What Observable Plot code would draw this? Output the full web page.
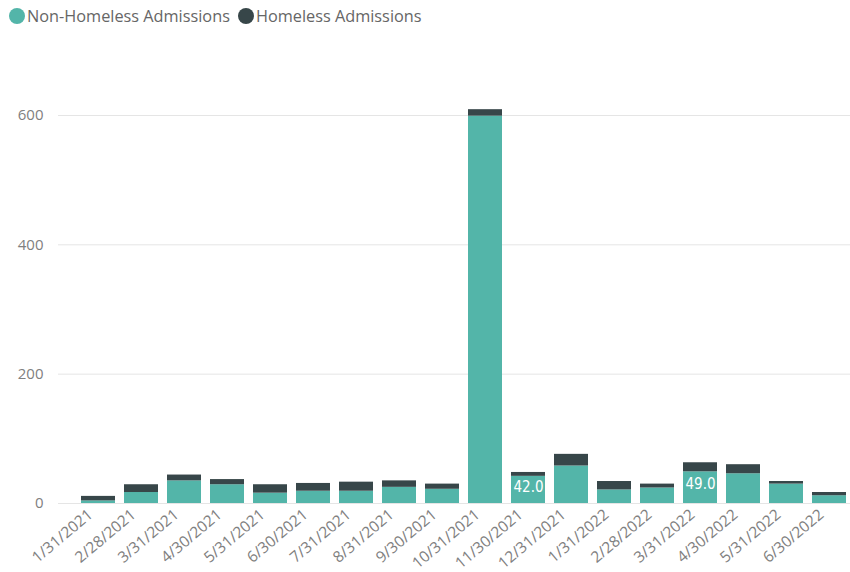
<!DOCTYPE html>
<html>
<head>
<meta charset="utf-8">
<script src="https://cdn.jsdelivr.net/npm/d3@7"></script>
<script src="https://cdn.jsdelivr.net/npm/@observablehq/plot@0.6"></script>
<style>
  html, body { margin: 0; padding: 0; background: #fff; }
  body { width: 850px; height: 572px; overflow: hidden; font-family: "Open Sans", sans-serif; }
  #legend { height: 30px; display: flex; align-items: center; padding-left: 9px; padding-top: 2px; box-sizing: border-box; font-size: 16.3px; color: #666; }
  .item { display: flex; align-items: center; margin-right: 8px; }
  .dot { width: 16px; height: 16px; border-radius: 50%; margin-right: 2px; }
  #chart svg { display: block; }
</style>
</head>
<body>
<div id="legend"></div>
<div id="chart"></div>
<script>
const months = ["1/31/2021","2/28/2021","3/31/2021","4/30/2021","5/31/2021","6/30/2021","7/31/2021","8/31/2021","9/30/2021","10/31/2021","11/30/2021","12/31/2021","1/31/2022","2/28/2022","3/31/2022","4/30/2022","5/31/2022","6/30/2022"];
const nonHomeless = [4, 17, 35, 29, 16, 19, 19, 25, 22, 599, 42, 58, 21, 24, 49, 46, 30, 12];
const homeless    = [7, 12, 9, 8, 13, 12, 14, 10, 8, 10, 6, 18, 13, 6, 14, 14, 4, 5];
const labeledMonths = ["11/30/2021", "3/31/2022"];
const seriesNames = ["Non-Homeless Admissions", "Homeless Admissions"];
const seriesColors = ["#53b5a9", "#374649"];
const yTicks = [0, 200, 400, 600];

const rows = months.flatMap((m, i) => [
  {month: m, series: seriesNames[0], value: nonHomeless[i]},
  {month: m, series: seriesNames[1], value: homeless[i]}
]);
const labelRows = months.map((m, i) => ({month: m, value: nonHomeless[i]}))
  .filter(d => labeledMonths.includes(d.month));

// legend
const legend = document.getElementById("legend");
seriesNames.forEach((s, i) => {
  const it = document.createElement("div");
  it.className = "item";
  const dot = document.createElement("span");
  dot.className = "dot";
  dot.style.background = seriesColors[i];
  const t = document.createElement("span");
  t.textContent = s;
  it.appendChild(dot); it.appendChild(t);
  legend.appendChild(it);
});

const chart = Plot.plot({
  width: 850,
  height: 542,
  marginLeft: 58,
  marginRight: 0,
  marginTop: 0,
  marginBottom: 69,
  style: {fontFamily: "Open Sans, sans-serif", fontSize: "15px", color: "#808080", background: "#fff"},
  x: {domain: months, range: [76, 850], paddingInner: 0.21, paddingOuter: 0, label: null},
  y: {domain: [0, 600], range: [473, 85], label: null},
  color: {domain: seriesNames, range: seriesColors},
  marks: [
    Plot.ruleY(yTicks, {stroke: "#e5e5e5", strokeWidth: 1}),
    Plot.barY(rows, {x: "month", y: "value", fill: "series", order: seriesNames}),
    Plot.text(labelRows, {
      x: "month", y: d => d.value / 2, text: d => d.value.toFixed(1),
      fill: "white", fontSize: 15, fontFamily: "DejaVu Sans Condensed, sans-serif", dy: -3
    }),
    Plot.axisY({ticks: yTicks, tickSize: 0, tickPadding: 15, label: null, fill: "#808080", fontSize: 15}),
    Plot.axisX({tickSize: 0, tickPadding: 9, tickRotate: -40, label: null, fill: "#808080", fontSize: 15.5, dx: -8})
  ]
});
document.getElementById("chart").appendChild(chart);
</script>
</body>
</html>
